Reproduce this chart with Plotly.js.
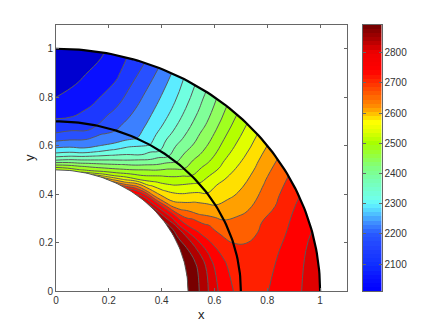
<!DOCTYPE html>
<html><head><meta charset="utf-8">
<script src="https://cdn.plot.ly/plotly-3.0.1.min.js"></script>
<style>html,body{margin:0;padding:0;background:#fff}#c{width:436px;height:328px}</style></head>
<body><div id="c"></div>
<script>
const radii=[0.5,0.51,0.525,0.54,0.56,0.58,0.6,0.625,0.65,0.675,0.7,0.75,0.8,0.9,1];
const anglesDeg=[0,10,15,20,25,30,35,40,45,50,55,60,65,70,75,80,85,90];
const row0 =[2893,2883,2869,2854,2830,2805,2780,2757,2739,2723,2712,2706,2723,2757,2790];
const row10=[2891,2881,2869,2855,2830,2803,2773,2750,2729,2706,2694,2691,2702,2744,2782];
const row15=[2887,2876,2866,2847,2819,2792,2763,2736,2712,2698,2687,2684,2691,2725,2765];
const row20=[2880,2868,2851,2830,2801,2767,2738,2715,2694,2679,2673,2670,2675,2700,2746];
const row25=[2868,2855,2834,2811,2767,2733,2712,2696,2675,2654,2639,2635,2637,2670,2710];
const row30=[2868,2851,2822,2767,2725,2696,2679,2645,2628,2616,2603,2600,2603,2635,2670];
const row35=[2851,2826,2784,2746,2683,2645,2624,2607,2593,2578,2559,2565,2568,2586,2622];
const row40=[2834,2799,2754,2704,2628,2593,2576,2557,2542,2526,2509,2507,2508,2533,2561];
const row45=[2817,2778,2729,2651,2599,2563,2538,2509,2488,2469,2446,2445,2444,2469,2498];
const row50=[2788,2767,2708,2628,2570,2528,2496,2467,2439,2410,2381,2382,2381,2397,2427];
const row55=[2750,2725,2658,2599,2515,2475,2448,2406,2368,2343,2315,2320,2319,2331,2353];
const row60=[2696,2641,2574,2521,2469,2427,2389,2347,2305,2282,2257,2258,2257,2263,2279];
const row65=[2637,2586,2515,2469,2421,2381,2339,2299,2271,2240,2213,2208,2207,2206,2207];
const row70=[2599,2532,2473,2431,2383,2337,2297,2255,2221,2196,2187,2175,2165,2153,2141];
const row75=[2544,2486,2442,2402,2347,2297,2253,2213,2196,2175,2154,2137,2118,2097,2089];
const row80=[2507,2468,2425,2375,2316,2261,2220,2190,2161,2134,2118,2103,2089,2064,2049];
const row85=[2500,2470,2417,2360,2300,2250,2214,2180,2150,2127,2105,2084,2064,2045,2030];
const row90=[2494,2473,2410,2347,2287,2238,2208,2169,2139,2120,2101,2076,2053,2030,2015];
const temps=[row0,row10,row15,row20,row25,row30,row35,row40,row45,row50,row55,row60,row65,row70,row75,row80,row85,row90];
const zLow=2011, zHigh=2893, levelStep=42, firstLevel=2053, lastLevel=2851;
const bandColors=['#0000d0','#0a10ff','#1c38ff','#2850ff','#3c80ff','#5cecff','#70ffe0','#7cffc0','#80ff98','#90ff60','#a0ff20','#b4ff00','#e0ff00','#ffe000','#ffa000','#ff6000','#ff2000','#ff0000','#e00000','#b00000','#780000'];
const barValues=[2011,2060,2100,2150,2200,2240,2270,2300,2320,2380,2420,2450,2500,2540,2570,2590,2620,2660,2700,2740,2800,2840,2893];
const barColors=['#0000ff','#0a14ff','#1030ff','#2040ff','#2858ff','#4090ff','#50c8ff','#60f5ff','#70ffe8','#78ffb0','#80ff80','#90ff50','#a8ff00','#e0ff00','#ffff00','#ffd000','#ff9000','#ff6000','#ff3000','#ff0000','#f00000','#b00000','#700000'];
const barTicks=[2100,2200,2300,2400,2500,2600,2700,2800];
const axisTicks=[0,0.2,0.4,0.6,0.8,1];
const axisLabels=['0','0.2','0.4','0.6','0.8','1'];
const wallRadii=[1,0.7];

const rad=d=>d*Math.PI/180;
const gx=anglesDeg.map(t=>radii.map(r=>r*Math.cos(rad(t))));
const gy=anglesDeg.map(t=>radii.map(r=>r*Math.sin(rad(t))));
const steps=[];
bandColors.forEach((c,i)=>{steps.push([i/bandColors.length,c]);steps.push([(i+1)/bandColors.length,c]);});
const hidden={showgrid:false,showline:false,startline:false,endline:false,showticklabels:'none',tickmode:'array',tickvals:[],smoothing:1,minorgridcount:0};
const traces=[
 {type:'carpet',carpet:'c1',a:radii,b:anglesDeg,x:gx,y:gy,aaxis:hidden,baxis:hidden,xaxis:'x',yaxis:'y'},
 {type:'contourcarpet',carpet:'c1',a:radii,b:anglesDeg,z:temps,zmin:zLow,zmax:zHigh,autocolorscale:false,colorscale:steps,showscale:false,autocontour:false,
  contours:{start:firstLevel,end:lastLevel,size:levelStep,coloring:'fill'},line:{color:'#5a5a5a',width:1,smoothing:1.3},xaxis:'x',yaxis:'y'}
];
const arc=[];for(let d=0;d<=90;d+=1)arc.push(d);
wallRadii.forEach(r=>traces.push({type:'scatter',mode:'lines',x:arc.map(t=>r*Math.cos(rad(t))),y:arc.map(t=>r*Math.sin(rad(t))),line:{color:'#000',width:2.2},hoverinfo:'skip',xaxis:'x',yaxis:'y',cliponaxis:false}));
traces.push({type:'scatter',mode:'lines',x:arc.map(t=>0.5*Math.cos(rad(t))),y:arc.map(t=>0.5*Math.sin(rad(t))),line:{color:'#555',width:1},hoverinfo:'skip',xaxis:'x',yaxis:'y'});
const ramp=[];for(let i=0;i<64;i++)ramp.push(zLow+(i+0.5)*(zHigh-zLow)/64);
traces.push({type:'heatmap',x:[0.5],y:ramp,z:ramp.map(v=>[v]),zmin:zLow,zmax:zHigh,showscale:false,
 colorscale:barValues.map((v,i)=>[(v-zLow)/(zHigh-zLow),barColors[i]]),xaxis:'x2',yaxis:'y2'});
const tickFont={family:'Liberation Sans, Arial, sans-serif',size:10,color:'#333'};
const ax={showgrid:false,zeroline:false,showline:true,linecolor:'#666',linewidth:1,mirror:'ticks',ticks:'inside',ticklen:3,tickcolor:'#666',tickfont:tickFont,tickmode:'array',tickvals:axisTicks,ticktext:axisLabels,range:[0,1.1]};
const W=436,H=328;
Plotly.newPlot('c',traces,{
 width:W,height:H,showlegend:false,margin:{l:0,r:0,t:0,b:0},paper_bgcolor:'#fff',plot_bgcolor:'#fff',
 xaxis:Object.assign({},ax,{domain:[56/W,346.5/W],anchor:'y',title:{text:'x',font:{family:'Liberation Sans, Arial, sans-serif',size:13,color:'#222'},standoff:4}}),
 yaxis:Object.assign({},ax,{domain:[37/H,303.5/H],anchor:'x',title:{text:'y',font:{family:'Liberation Sans, Arial, sans-serif',size:13,color:'#222'},standoff:1}}),
 xaxis2:{domain:[363/W,381.5/W],anchor:'y2',range:[0,1],showgrid:false,zeroline:false,showticklabels:false,ticks:'',showline:true,linecolor:'#666',mirror:true},
 yaxis2:{domain:[37/H,303.5/H],anchor:'x2',side:'right',range:[zLow,zHigh],showgrid:false,zeroline:false,showline:true,linecolor:'#666',mirror:'ticks',ticks:'inside',ticklen:3,tickcolor:'#666',tickfont:tickFont,tickmode:'array',tickvals:barTicks}
},{staticPlot:true,displayModeBar:false});
</script></body></html>
